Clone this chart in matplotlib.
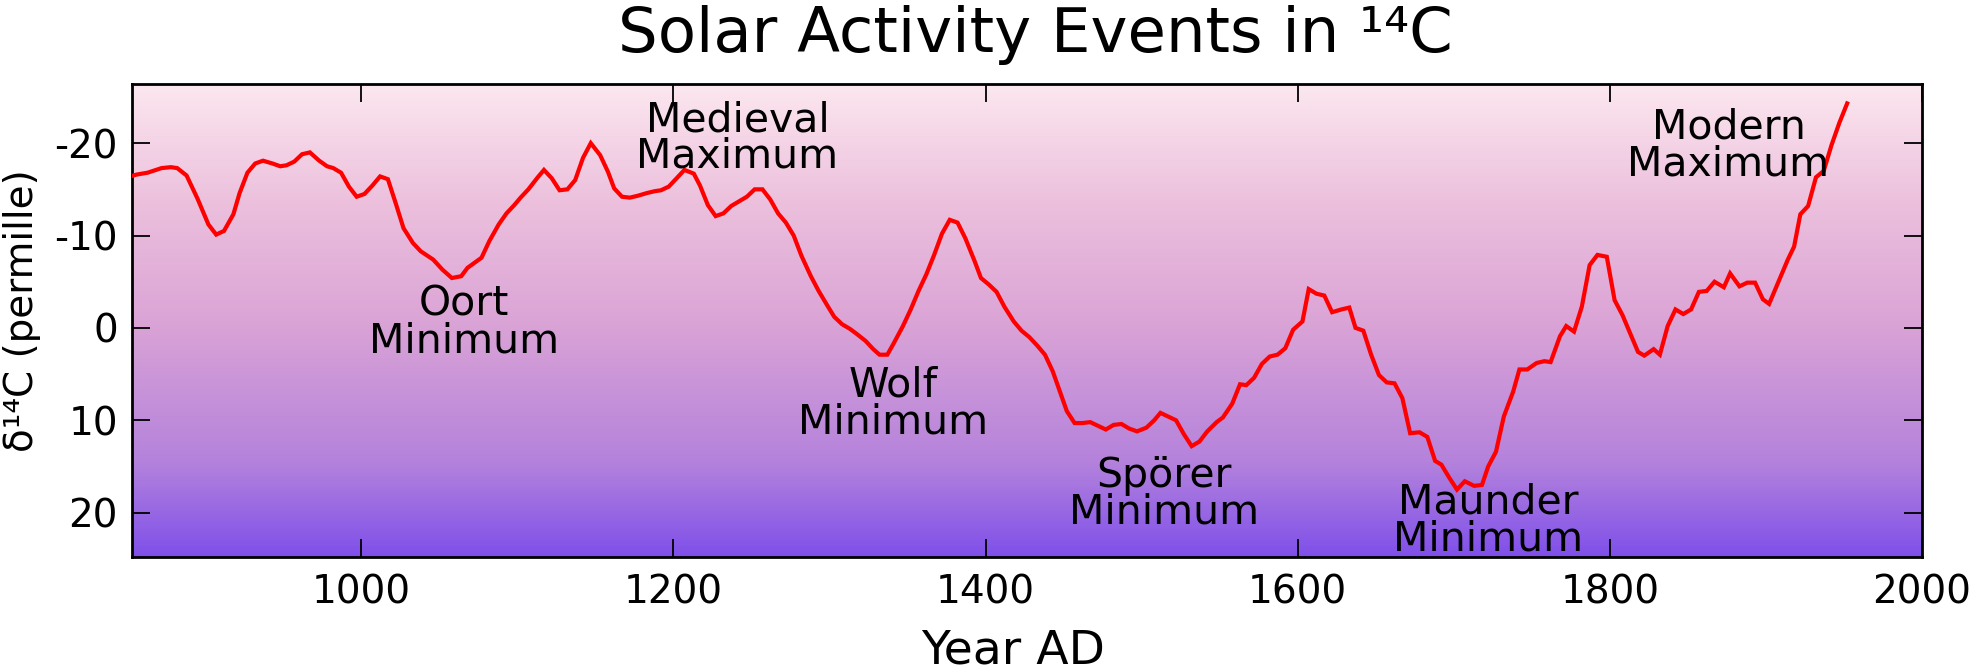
import numpy as np
import matplotlib
matplotlib.use("Agg")
import matplotlib.pyplot as plt
from matplotlib.colors import LinearSegmentedColormap

plt.rcParams["font.family"] = "DejaVu Sans"
plt.rcParams["axes.unicode_minus"] = False

# delta14C record (years AD, permille)
years = [852, 856, 863, 872, 878, 882, 888, 895, 902, 907, 912, 918, 922, 927, 932,
         937, 943, 948, 952, 957, 962, 967, 973, 978, 982, 987, 992, 997, 1002, 1007,
         1012, 1017, 1022, 1027, 1033, 1038, 1046, 1052, 1058, 1064, 1068, 1077, 1082,
         1088, 1093, 1098, 1102, 1107, 1113, 1117, 1122, 1127, 1132, 1137, 1142, 1147,
         1153, 1158, 1162, 1167, 1172, 1177, 1183, 1188, 1192, 1197, 1202, 1207, 1213,
         1217, 1222, 1227, 1232, 1237, 1242, 1247, 1252, 1257, 1262, 1267, 1272, 1277,
         1282, 1288, 1293, 1299, 1303, 1308, 1313, 1317, 1323, 1328, 1332, 1337, 1341,
         1347, 1352, 1357, 1362, 1367, 1372, 1377, 1382, 1387, 1393, 1397, 1402, 1407,
         1412, 1418, 1423, 1428, 1433, 1438, 1443, 1447, 1452, 1457, 1462, 1467, 1472,
         1477, 1482, 1487, 1492, 1497, 1503, 1508, 1512, 1517, 1522, 1527, 1532, 1537,
         1542, 1548, 1552, 1558, 1563, 1567, 1572, 1577, 1582, 1587, 1592, 1597, 1603,
         1607, 1612, 1617, 1622, 1628, 1633, 1637, 1642, 1647, 1652, 1657, 1662, 1667,
         1672, 1678, 1683, 1688, 1692, 1697, 1702, 1707, 1713, 1718, 1722, 1727, 1732,
         1738, 1742, 1747, 1753, 1758, 1762, 1768, 1772, 1777, 1782, 1787, 1792, 1798,
         1803, 1808, 1813, 1818, 1822, 1828, 1832, 1837, 1842, 1847, 1852, 1857, 1862,
         1867, 1873, 1877, 1883, 1888, 1893, 1898, 1902, 1908, 1914, 1918, 1922, 1927,
         1932, 1937, 1942, 1947, 1952]
d14c = [-16.4, -16.6, -16.8, -17.3, -17.4, -17.3, -16.5, -14.0, -11.2, -10.1, -10.5,
        -12.3, -14.6, -16.8, -17.8, -18.1, -17.8, -17.5, -17.6, -18.0, -18.8, -19.0,
        -18.1, -17.5, -17.3, -16.8, -15.3, -14.2, -14.5, -15.4, -16.4, -16.1, -13.5,
        -10.8, -9.2, -8.3, -7.4, -6.3, -5.4, -5.6, -6.5, -7.6, -9.4, -11.2, -12.4,
        -13.3, -14.1, -15.0, -16.3, -17.1, -16.2, -14.9, -15.0, -16.0, -18.4, -20.0,
        -18.7, -16.9, -15.1, -14.2, -14.1, -14.3, -14.6, -14.8, -14.9, -15.3, -16.2,
        -17.1, -16.7, -15.4, -13.3, -12.1, -12.4, -13.2, -13.7, -14.2, -15.0, -15.0,
        -13.9, -12.4, -11.4, -10.0, -7.8, -5.6, -4.0, -2.3, -1.2, -0.4, 0.1, 0.6, 1.4,
        2.3, 2.9, 2.9, 1.7, -0.2, -2.0, -4.0, -5.8, -7.9, -10.2, -11.7, -11.4, -9.7,
        -7.2, -5.4, -4.7, -3.9, -2.3, -0.7, 0.3, 1.0, 1.9, 2.9, 4.7, 6.6, 9.0, 10.3,
        10.3, 10.2, 10.6, 11.0, 10.5, 10.4, 10.9, 11.2, 10.8, 10.0, 9.2, 9.6, 10.0,
        11.5, 12.8, 12.3, 11.2, 10.2, 9.7, 8.2, 6.1, 6.2, 5.4, 3.9, 3.1, 2.9, 2.2, 0.2,
        -0.7, -4.2, -3.7, -3.5, -1.7, -2.0, -2.2, 0.0, 0.3, 2.9, 5.1, 5.9, 6.0, 7.6,
        11.4, 11.3, 11.8, 14.4, 14.8, 16.2, 17.5, 16.6, 17.1, 17.0, 15.0, 13.4, 9.6,
        6.9, 4.5, 4.5, 3.8, 3.6, 3.7, 0.9, -0.2, 0.4, -2.3, -6.8, -7.9, -7.7, -3.0,
        -1.4, 0.6, 2.6, 3.0, 2.3, 2.9, -0.2, -2.0, -1.5, -2.0, -3.9, -4.0, -5.0, -4.4,
        -5.9, -4.5, -4.9, -4.9, -3.1, -2.6, -5.0, -7.4, -8.8, -12.3, -13.2, -16.3,
        -17.0, -19.8, -22.2, -24.3]

# event labels
event_names = ["Oort\nMinimum", "Medieval\nMaximum", "Wolf\nMinimum",
               "Spörer\nMinimum", "Maunder\nMinimum", "Modern\nMaximum"]
event_x = [1066, 1241, 1341, 1514, 1722, 1876]
event_y = [-0.5, -20.5, 8.2, 18.0, 20.9, -19.7]

x_ticks = [1000, 1200, 1400, 1600, 1800, 2000]
y_ticks = [-20, -10, 0, 10, 20]

fig = plt.figure(figsize=(19.75, 6.69), dpi=100)
ax = fig.add_axes([0.0668, 0.1674, 0.9064, 0.707])

# background gradient, purple at the bottom to pale pink at the top
bg = LinearSegmentedColormap.from_list(
    "bg", [(0.0, "#7f50ea"), (0.2, "#b482dc"), (0.5, "#dba4d6"),
           (0.75, "#ecc0dd"), (1.0, "#fce7ef")])
grad = np.linspace(0, 1, 256).reshape(-1, 1)
ax.imshow(grad, cmap=bg, origin="lower", extent=(0, 1, 0, 1),
          transform=ax.transAxes, aspect="auto", zorder=0)

ax.plot(years, d14c, color="#ff0000", lw=3.0, zorder=3, solid_joinstyle="miter")

for name, x, y in zip(event_names, event_x, event_y):
    ax.text(x, y, name, fontsize=29.5, ha="center", va="center",
            linespacing=0.9, zorder=4)

ax.set_xlim(853, 2000)
ax.set_ylim(24.8, -26.4)
ax.set_xticks(x_ticks)
ax.set_yticks(y_ticks)
ax.tick_params(direction="in", length=13, width=1.3, labelsize=28,
               top=True, right=True, pad=10)
ax.tick_params(axis="x", pad=12)
for s in ax.spines.values():
    s.set_linewidth(2)

fig.text(0.524, 1 - 52 / 669, "Solar Activity Events in ¹⁴C", fontsize=45,
         ha="center", va="baseline")
fig.text(0.513, 5 / 669, "Year AD", fontsize=34, ha="center", va="baseline")
ax.set_ylabel("δ¹⁴C (permille)", fontsize=28)
ax.yaxis.set_label_coords(-0.051, 0.52)

plt.savefig("out.png", dpi=100)
